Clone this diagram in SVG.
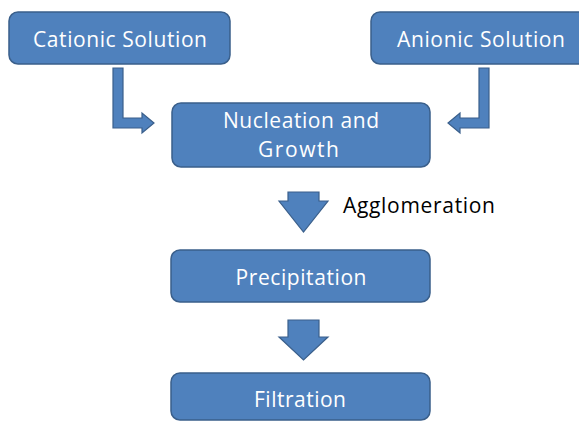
<svg xmlns="http://www.w3.org/2000/svg" width="579" height="421" viewBox="0 0 579 421">
<style>
.box{fill:#4F81BD;stroke:#3A5F8B;stroke-width:1.5}
.arr{fill:#4F81BD;stroke:#3A5F8B;stroke-width:1.2;stroke-linejoin:miter}
.t{font-family:"Open Sans","Liberation Sans",Arial,sans-serif;font-size:21px;fill:#FFFFFF;text-anchor:middle}
.lbl{font-family:"Open Sans","Liberation Sans",Arial,sans-serif;font-size:21px;fill:#000000}
</style>
<rect width="579" height="421" fill="#FFFFFF"/>
<g id="cationic">
<rect class="box" x="9" y="12" width="221" height="52" rx="9"/>
<text class="t" x="120" y="47" textLength="174">Cationic Solution</text>
</g>
<g id="anionic">
<rect class="box" x="371" y="12" width="221" height="52" rx="9"/>
<text class="t" x="481" y="47" textLength="168">Anionic Solution</text>
</g>
<g id="nucleation">
<rect class="box" x="172" y="103" width="258" height="64" rx="9"/>
<text class="t" x="301" y="128" textLength="156">Nucleation and</text>
<text class="t" x="298.5" y="157" textLength="81">Growth</text>
</g>
<g id="precipitation">
<rect class="box" x="171" y="250" width="259" height="52" rx="9"/>
<text class="t" x="301" y="285" textLength="131">Precipitation</text>
</g>
<g id="filtration">
<rect class="box" x="171" y="373" width="259" height="47" rx="9"/>
<text class="t" x="300" y="407" textLength="92">Filtration</text>
</g>
<g id="connectors">
<polygon class="arr" points="113,68 123,68 123,118 142,118 142,113 154,123 142,133 142,128 113,128"/>
<polygon class="arr" points="489,68 479,68 479,118 460,118 460,113 448,123 460,133 460,128 489,128"/>
<polygon class="arr" points="288,192 319,192 319,201 328,201 303.5,232 279,201 288,201"/>
<polygon class="arr" points="288,320 319,320 319,337 328,337 303.5,360 279,337 288,337"/>
<text class="lbl" x="343" y="213" textLength="152">Agglomeration</text>
</g>
</svg>
